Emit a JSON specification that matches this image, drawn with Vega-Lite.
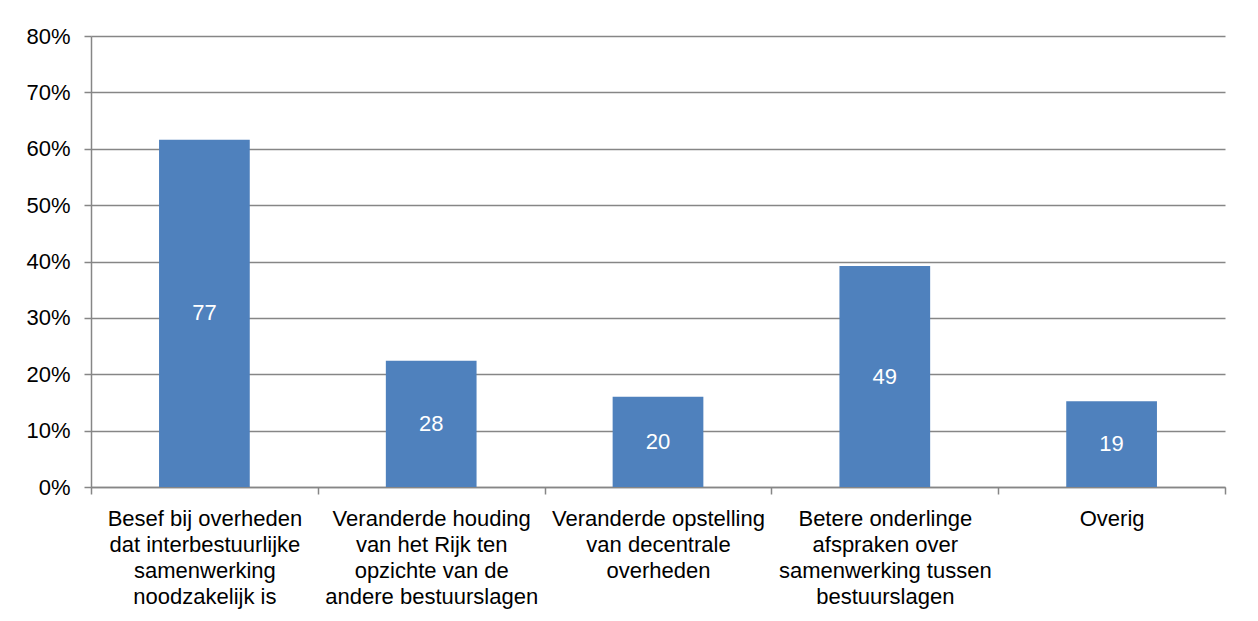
{
  "$schema": "https://vega.github.io/schema/vega-lite/v6.json",
  "width": 1134,
  "height": 451,
  "autosize": {"type": "none"},
  "padding": {"left": 91, "top": 36, "right": 33, "bottom": 134},
  "background": "white",
  "config": {
    "view": {"stroke": null},
    "font": "Liberation Sans"
  },
  "data": {
    "values": [
      {"categorie": "Besef bij overheden|dat interbestuurlijke|samenwerking|noodzakelijk is", "aandeel": 0.616, "aantal": 77},
      {"categorie": "Veranderde houding|van het Rijk ten|opzichte van de|andere bestuurslagen", "aandeel": 0.224, "aantal": 28},
      {"categorie": "Veranderde opstelling|van decentrale|overheden", "aandeel": 0.16, "aantal": 20},
      {"categorie": "Betere onderlinge|afspraken over|samenwerking tussen|bestuurslagen", "aandeel": 0.392, "aantal": 49},
      {"categorie": "Overig", "aandeel": 0.152, "aantal": 19}
    ]
  },
  "encoding": {
    "x": {
      "field": "categorie",
      "type": "nominal",
      "sort": null,
      "scale": {"paddingInner": 0, "paddingOuter": 0},
      "axis": {
        "title": null,
        "labelAngle": 0,
        "labelExpr": "datum.value ? split(datum.value, '|') : ''",
        "labelFont": "Liberation Sans",
        "labelFontSize": 22,
        "labelColor": "#000000",
        "labelLineHeight": 26,
        "labelPadding": 14,
        "labelBaseline": "top",
        "labelLimit": 0,
        "tickBand": "extent",
        "tickSize": 7,
        "tickColor": "#868686",
        "tickWidth": 1.5,
        "domainColor": "#868686",
        "domainWidth": 1.5,
        "grid": false
      }
    },
    "y": {
      "field": "aandeel",
      "type": "quantitative",
      "scale": {"domain": [0, 0.8]},
      "axis": {
        "title": null,
        "format": ".0%",
        "values": [0, 0.1, 0.2, 0.3, 0.4, 0.5, 0.6, 0.7, 0.8],
        "labelFont": "Liberation Sans",
        "labelFontSize": 22,
        "labelColor": "#000000",
        "labelPadding": 14,
        "labelOverlap": false,
        "tickSize": 7,
        "tickColor": "#868686",
        "tickWidth": 1.5,
        "domainColor": "#868686",
        "domainWidth": 1.5,
        "gridColor": "#868686",
        "gridWidth": 1.5,
        "gridOpacity": 1
      }
    }
  },
  "layer": [
    {
      "mark": {"type": "bar", "color": "#4F81BD", "width": {"band": 0.4}}
    },
    {
      "transform": [{"calculate": "datum.aandeel / 2", "as": "midden"}],
      "mark": {"type": "text", "color": "white", "fontSize": 22, "font": "Liberation Sans", "baseline": "middle"},
      "encoding": {
        "y": {"field": "midden", "type": "quantitative"},
        "text": {"field": "aantal", "type": "quantitative"}
      }
    }
  ]
}
